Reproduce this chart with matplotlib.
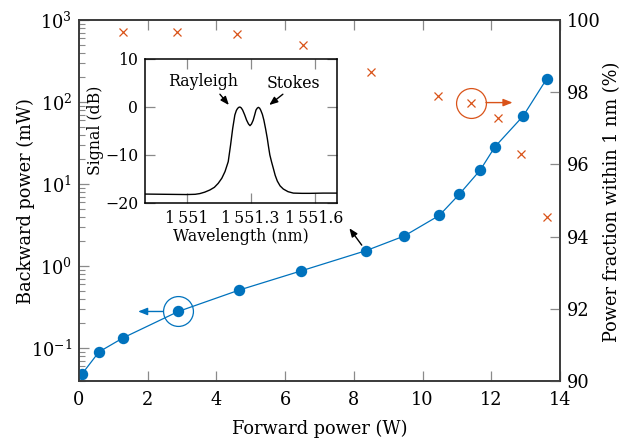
import matplotlib
matplotlib.use("Agg")
import matplotlib.pyplot as plt
import numpy as np

plt.rcParams["font.family"] = ["DejaVu Serif"]
plt.rcParams["mathtext.fontset"] = "dejavuserif"

# Backward (SBS) power vs forward power
fwd_power = [0.08, 0.58, 1.29, 2.89, 4.66, 6.45, 8.35, 9.46, 10.49, 11.07, 11.68, 12.11, 12.93, 13.61]
bwd_power = [0.048, 0.090, 0.134, 0.28, 0.51, 0.87, 1.54, 2.32, 4.15, 7.5, 14.8, 28.5, 67.5, 190.0]

# Fraction of backward power within 1 nm
frac_fwd = [1.29, 2.84, 4.61, 6.53, 8.49, 10.44, 11.41, 12.19, 12.88, 13.61]
frac_pct = [99.66, 99.66, 99.60, 99.31, 98.57, 97.90, 97.71, 97.28, 96.29, 94.55]

# Inset: backward spectrum
wl_nm = [1550.805, 1550.9, 1551.0, 1551.04, 1551.062, 1551.085, 1551.109, 1551.13, 1551.148,
         1551.165, 1551.18, 1551.195, 1551.206, 1551.216, 1551.226, 1551.233, 1551.239,
         1551.245, 1551.25, 1551.256, 1551.2625, 1551.272, 1551.281, 1551.29, 1551.297,
         1551.304, 1551.312, 1551.319, 1551.325, 1551.331, 1551.336, 1551.342, 1551.347,
         1551.355, 1551.362, 1551.370, 1551.378, 1551.384, 1551.39, 1551.398, 1551.406,
         1551.415, 1551.425, 1551.438, 1551.453, 1551.475, 1551.5, 1551.54, 1551.578,
         1551.64, 1551.703]
sig_db = [-18.2, -18.25, -18.3, -18.25, -18.1, -17.8, -17.35, -16.8, -15.97,
          -14.9, -13.5, -11.45, -7.98, -4.5, -1.73, -0.8, -0.35,
          -0.12, -0.07, -0.25, -0.7, -1.7, -2.8, -3.6, -3.95,
          -3.6, -2.8, -1.7, -0.7, -0.3, -0.14, -0.3, -0.7,
          -1.6, -2.8, -4.6, -6.6, -8.4, -10.06, -11.5, -12.8,
          -14.3, -15.5, -16.5, -17.15, -17.7, -18.0, -18.05, -18.05,
          -18.0, -18.0]

inset_xticks = [1551.0, 1551.3, 1551.6]
inset_xticklabels = ["1\u2009551", "1\u2009551.3", "1\u2009551.6"]

blue = "#0072BD"
orange = "#D95319"
tick_gray = "#8a8a8a"
spine_col = "#3a3a3a"

fig = plt.figure(figsize=(6.32, 4.42), dpi=100)
ax = fig.add_axes([0.125, 0.138, 0.761, 0.817])
ax2 = ax.twinx()

ax.set_yscale("log")
ax.set_xlim(0, 14)
ax.set_ylim(10 ** -1.4, 1e3)
ax.set_xticks(range(0, 15, 2))
ax2.set_ylim(90, 100)
ax2.set_yticks(range(90, 101, 2))

ax.plot(fwd_power, bwd_power, "-o", color=blue, lw=0.9, ms=7.2, mec=blue, zorder=3)
ax2.plot(frac_fwd, frac_pct, "x", color=orange, ms=5.5, mew=0.9, zorder=3)

# circles marking which axis each series belongs to
ax.plot([fwd_power[3]], [bwd_power[3]], "o", mfc="none", mec=blue, ms=21.5, mew=0.9)
ax.annotate("", xy=(1.72, bwd_power[3]), xytext=(fwd_power[3], bwd_power[3]),
            arrowprops=dict(arrowstyle="-|>,head_length=0.55,head_width=0.22", color=blue,
                            lw=1.0, shrinkA=10.8, shrinkB=0))
ax2.plot([frac_fwd[6]], [frac_pct[6]], "o", mfc="none", mec=orange, ms=21.5, mew=0.9)
ax2.annotate("", xy=(12.62, frac_pct[6]), xytext=(frac_fwd[6], frac_pct[6]),
             arrowprops=dict(arrowstyle="-|>,head_length=0.55,head_width=0.22", color=orange,
                             lw=1.0, shrinkA=10.8, shrinkB=0))

# arrow pointing from the inset to the operating point
ax.annotate("", xy=(7.87, 2.89), xytext=(fwd_power[6], bwd_power[6]),
            arrowprops=dict(arrowstyle="-|>,head_length=0.5,head_width=0.2", color="black",
                            lw=1.0, shrinkA=5, shrinkB=0))

fs = 12.8
ax.set_xlabel("Forward power (W)", fontsize=fs, labelpad=8)
ax.set_ylabel("Backward power (mW)", fontsize=fs)
ax2.set_ylabel("Power fraction within 1 nm (%)", fontsize=fs)
ax.yaxis.set_label_coords(-0.0915, 0.497)
ax2.yaxis.set_label_coords(1.089, 0.495)

for a in (ax, ax2):
    for s in a.spines.values():
        s.set_color(spine_col)
        s.set_linewidth(1.2)

ax.tick_params(axis="x", which="both", direction="in", top=True, length=7.5, width=0.9,
               color=tick_gray, labelsize=fs, pad=7)
ax.tick_params(axis="y", which="major", direction="in", right=False, length=7.5, width=0.9,
               color=tick_gray, labelsize=fs, pad=5)
ax.tick_params(axis="y", which="minor", direction="in", right=False, length=4.5, width=0.8,
               color=tick_gray)
ax2.tick_params(axis="y", which="both", direction="in", length=7.5, width=0.9,
                color=tick_gray, labelsize=fs, pad=5)

# inset spectrum
ifs = 11.3
ins = fig.add_axes([0.2294, 0.5414, 0.3033, 0.3258])
ins.plot(wl_nm, sig_db, color="black", lw=1.0)
ins.set_xlim(1550.805, 1551.703)
ins.set_ylim(-20, 10)
ins.set_xticks(inset_xticks)
ins.set_xticklabels(inset_xticklabels)
ins.set_yticks([-20, -10, 0, 10])
ins.tick_params(which="both", direction="in", top=True, right=True, length=7.5, width=0.9,
                color=tick_gray, labelsize=ifs, pad=5)
for s in ins.spines.values():
    s.set_color("black")
    s.set_linewidth(1.1)
ins.set_xlabel("Wavelength (nm)", fontsize=ifs, labelpad=1)
ins.set_ylabel("Signal (dB)", fontsize=ifs, labelpad=1)

ins.text(1551.076, 5.2, "Rayleigh", fontsize=ifs, ha="center", va="center")
ins.text(1551.498, 4.9, "Stokes", fontsize=ifs, ha="center", va="center")
ins.annotate("", xy=(1551.198, 0.35), xytext=(1551.156, 2.6),
             arrowprops=dict(arrowstyle="-|>,head_length=0.5,head_width=0.2", color="black",
                             lw=1.0, shrinkA=0, shrinkB=0))
ins.annotate("", xy=(1551.387, 0.35), xytext=(1551.451, 2.6),
             arrowprops=dict(arrowstyle="-|>,head_length=0.5,head_width=0.2", color="black",
                             lw=1.0, shrinkA=0, shrinkB=0))

fig.savefig("out.png", dpi=100)
